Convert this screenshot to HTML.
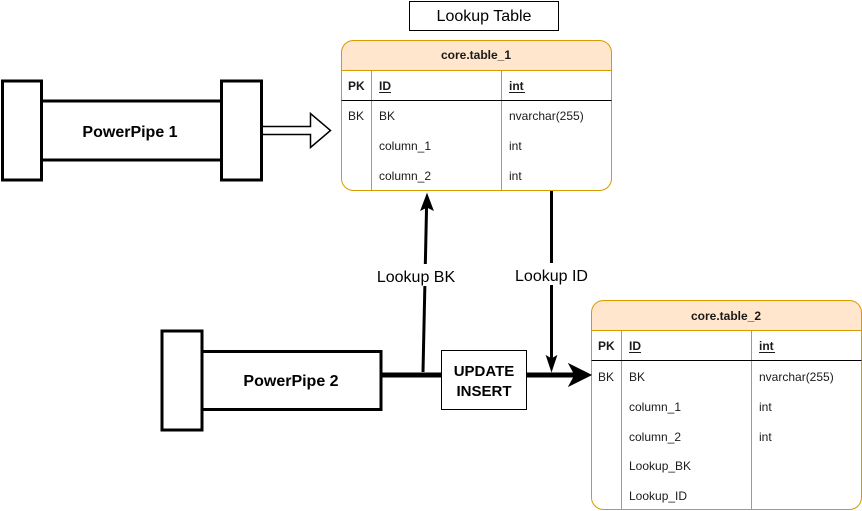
<!DOCTYPE html>
<html><head><meta charset="utf-8"><style>
html,body{margin:0;padding:0;background:#fff;}
svg{display:block;}
text{font-family:"Liberation Sans",Arial,sans-serif;fill:#000;}
.t{font-size:12px;fill:#1a1a1a;}
</style></head><body>
<svg width="862" height="511" viewBox="0 0 862 511" xmlns="http://www.w3.org/2000/svg">
<!-- Lookup Table label -->
<rect x="409.5" y="1.5" width="149" height="29" fill="#fff" stroke="#000" stroke-width="1"/>
<text x="484" y="21" font-size="16" text-anchor="middle" fill="#222">Lookup Table</text>

<!-- table 1 -->
<path d="M341.5,70.5 V52.5 a12,12 0 0 1 12,-12 H599.5 a12,12 0 0 1 12,12 V70.5 Z" fill="#ffe6cc" stroke="#d79b00" stroke-width="1"/>
<path d="M341.5,70.5 H611.5 V178.5 a12,12 0 0 1 -12,12 H353.5 a12,12 0 0 1 -12,-12 Z" fill="#fff" stroke="#d79b00" stroke-width="1"/>
<line x1="371.5" y1="70.5" x2="371.5" y2="190.5" stroke="#d79b00"/>
<line x1="501.5" y1="70.5" x2="501.5" y2="190.5" stroke="#d79b00"/>
<line x1="341.5" y1="100.5" x2="611.5" y2="100.5" stroke="#000"/>
<text x="476" y="59" class="t" text-anchor="middle" font-weight="bold">core.table_1</text>
<text x="348" y="90" class="t" font-weight="bold">PK</text>
<text x="379" y="90" class="t" font-weight="bold">ID</text>
<line x1="379" y1="92.5" x2="391" y2="92.5" stroke="#1a1a1a" stroke-width="1"/>
<text x="509" y="90" class="t" font-weight="bold">int</text>
<line x1="509" y1="92.5" x2="525" y2="92.5" stroke="#1a1a1a" stroke-width="1"/>
<text x="348" y="120" class="t">BK</text>
<text x="379" y="120" class="t">BK</text>
<text x="509" y="120" class="t">nvarchar(255)</text>
<text x="379" y="150" class="t">column_1</text>
<text x="509" y="150" class="t">int</text>
<text x="379" y="180" class="t">column_2</text>
<text x="509" y="180" class="t">int</text>

<!-- table 2 -->
<path d="M591.5,330.5 V312.5 a12,12 0 0 1 12,-12 H849.5 a12,12 0 0 1 12,12 V330.5 Z" fill="#ffe6cc" stroke="#d79b00" stroke-width="1"/>
<path d="M591.5,330.5 H861.5 V497.5 a12,12 0 0 1 -12,12 H603.5 a12,12 0 0 1 -12,-12 Z" fill="#fff" stroke="#d79b00" stroke-width="1"/>
<line x1="621.5" y1="330.5" x2="621.5" y2="509.5" stroke="#d79b00"/>
<line x1="751.5" y1="330.5" x2="751.5" y2="509.5" stroke="#d79b00"/>
<line x1="591.5" y1="360.5" x2="861.5" y2="360.5" stroke="#000"/>
<text x="726" y="320" class="t" text-anchor="middle" font-weight="bold">core.table_2</text>
<text x="598" y="350" class="t" font-weight="bold">PK</text>
<text x="629" y="350" class="t" font-weight="bold">ID</text>
<line x1="629" y1="352.5" x2="641" y2="352.5" stroke="#1a1a1a" stroke-width="1"/>
<text x="759" y="350" class="t" font-weight="bold">int</text>
<line x1="759" y1="352.5" x2="775" y2="352.5" stroke="#1a1a1a" stroke-width="1"/>
<text x="598" y="381" class="t">BK</text>
<text x="629" y="381" class="t">BK</text>
<text x="759" y="381" class="t">nvarchar(255)</text>
<text x="629" y="411" class="t">column_1</text>
<text x="759" y="411" class="t">int</text>
<text x="629" y="441" class="t">column_2</text>
<text x="759" y="441" class="t">int</text>
<text x="629" y="470" class="t">Lookup_BK</text>
<text x="629" y="500" class="t">Lookup_ID</text>

<!-- PowerPipe 1 -->
<rect x="41.5" y="101" width="180" height="59" fill="#fff" stroke="#000" stroke-width="3"/>
<rect x="2.5" y="81" width="39" height="99" fill="#fff" stroke="#000" stroke-width="3"/>
<rect x="221.5" y="81" width="40" height="99" fill="#fff" stroke="#000" stroke-width="3"/>
<text x="130" y="137" font-size="16" font-weight="bold" text-anchor="middle" fill="#111">PowerPipe 1</text>
<!-- hollow arrow -->
<path d="M263,126.5 H310.5 V113.5 L330.5,130.5 L310.5,147.5 V134.5 H263" fill="#fff" stroke="#000" stroke-width="1.5"/>

<!-- PowerPipe 2 -->
<rect x="202" y="351.5" width="179" height="58" fill="#fff" stroke="#000" stroke-width="3"/>
<rect x="162" y="331" width="40" height="99" fill="#fff" stroke="#000" stroke-width="3"/>
<text x="291" y="386" font-size="16" font-weight="bold" text-anchor="middle" fill="#111">PowerPipe 2</text>

<!-- connectors -->
<line x1="382" y1="375" x2="442" y2="375" stroke="#000" stroke-width="5"/>
<line x1="527" y1="375" x2="575" y2="375" stroke="#000" stroke-width="5"/>
<path d="M591,375 L569,364 L575,375 L569,386 Z" fill="#000" stroke="#000" stroke-width="1"/>

<!-- UPDATE INSERT box -->
<rect x="441.5" y="350.5" width="85" height="59" fill="#fff" stroke="#000" stroke-width="1"/>
<text x="484" y="376" font-size="15" font-weight="bold" text-anchor="middle" fill="#111">UPDATE</text>
<text x="484" y="396" font-size="15" font-weight="bold" text-anchor="middle" fill="#111">INSERT</text>

<!-- Lookup BK -->
<line x1="423" y1="372" x2="426.6" y2="205" stroke="#000" stroke-width="3"/>
<path d="M427,194 L433,210 L427,207 L421,210 Z" fill="#000" stroke="#000" stroke-width="1"/>
<rect x="374" y="264" width="84" height="22" fill="#fff"/>
<text x="416" y="282" font-size="16" text-anchor="middle" fill="#222">Lookup BK</text>

<!-- Lookup ID -->
<line x1="551.5" y1="191" x2="551.5" y2="362" stroke="#000" stroke-width="3"/>
<path d="M551.5,371 L546.5,356 L551.5,359 L556.5,356 Z" fill="#000" stroke="#000" stroke-width="1"/>
<rect x="512" y="263" width="79" height="22" fill="#fff"/>
<text x="551.5" y="281" font-size="16" text-anchor="middle" fill="#222">Lookup ID</text>
</svg>
</body></html>
